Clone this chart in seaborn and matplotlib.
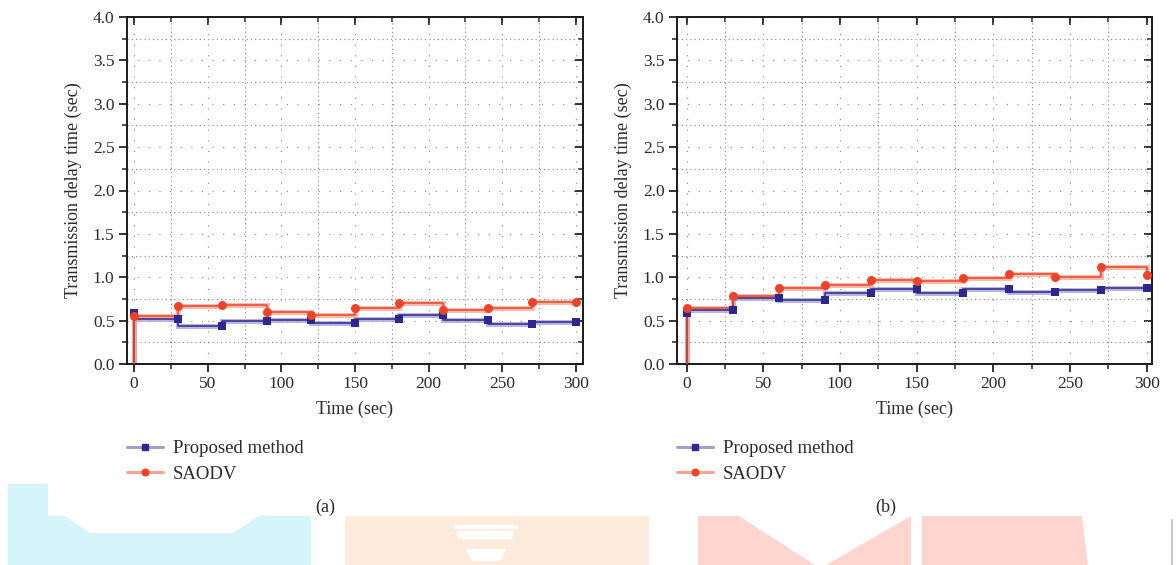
import matplotlib
matplotlib.use("Agg")
import matplotlib.pyplot as plt
import numpy as np
import pandas as pd
import seaborn as sns
from matplotlib.lines import Line2D
from matplotlib.patches import Polygon

# ---- data -------------------------------------------------------------
time_sec = [0, 30, 60, 90, 120, 150, 180, 210, 240, 270, 300]

proposed_a = [0.59, 0.52, 0.44, 0.49, 0.51, 0.47, 0.52, 0.57, 0.51, 0.46, 0.48]
saodv_a = [0.55, 0.67, 0.68, 0.60, 0.57, 0.65, 0.70, 0.62, 0.64, 0.71, 0.72]

proposed_b = [0.59, 0.62, 0.76, 0.74, 0.82, 0.87, 0.82, 0.87, 0.83, 0.85, 0.88]
saodv_b = [0.65, 0.78, 0.88, 0.91, 0.97, 0.96, 0.99, 1.04, 1.00, 1.12, 1.03]

series_names = ["Proposed method", "SAODV"]
panel_labels = ["(a)", "(b)"]
x_label = "Time (sec)"
y_label = "Transmission delay time (sec)"
x_ticks = [0, 50, 100, 150, 200, 250, 300]
x_minor = [25, 75, 125, 175, 225, 275]
y_ticks = [0.0, 0.5, 1.0, 1.5, 2.0, 2.5, 3.0, 3.5, 4.0]
y_minor = [0.25, 0.75, 1.25, 1.75, 2.25, 2.75, 3.25, 3.75]

# ---- style ------------------------------------------------------------
sns.set_theme(style="ticks")
plt.rcParams["font.family"] = ["Liberation Serif", "DejaVu Serif"]
TEXT = "#2b2b2b"
plt.rcParams["text.color"] = TEXT
plt.rcParams["axes.labelcolor"] = TEXT
plt.rcParams["xtick.color"] = "#222222"
plt.rcParams["ytick.color"] = "#222222"
plt.rcParams["xtick.labelcolor"] = TEXT
plt.rcParams["ytick.labelcolor"] = TEXT

BLUE = "#2d2790"
BLUE_BAND = "#a29ed4"
RED = "#ee4326"
RED_BAND = "#f7a492"

W, H = 1176, 565
fig = plt.figure(figsize=(W / 100, H / 100), dpi=100)
fig.patch.set_facecolor("white")


def px(x, y):
    """pixel position (from top-left) -> figure fraction"""
    return (x / W, 1 - y / H)


def draw_series(ax, values, color, band, marker, size, step):
    df = pd.DataFrame({"t": [0] + time_sec, "v": [0.0] + list(values)})
    sns.lineplot(data=df, x="t", y="v", ax=ax, estimator=None, sort=False,
                 drawstyle=step, color=band, lw=3.6, alpha=0.75,
                 solid_joinstyle="miter", zorder=2)
    sns.lineplot(data=df, x="t", y="v", ax=ax, estimator=None, sort=False,
                 drawstyle=step, color=color, lw=1.1, zorder=3)
    sns.scatterplot(x=time_sec, y=values, ax=ax, marker=marker, s=size,
                    color=color, edgecolor=color, linewidth=0, zorder=5)


def style_axes(ax, xlim):
    ax.set_xlim(*xlim)
    ax.set_ylim(0, 4.0)
    ax.set_xticks(x_ticks)
    ax.set_xticks(x_minor, minor=True)
    ax.set_yticks(y_ticks)
    ax.set_yticks(y_minor, minor=True)
    ax.set_yticklabels([f"{v:.1f}" for v in y_ticks])
    ax.tick_params(which="major", direction="out", length=6, width=1.3,
                   labelsize=12.5, pad=3)
    ax.tick_params(which="minor", direction="out", length=3.5, width=1.1)
    ax.grid(which="major", linestyle=(0, (1, 8)), color="#8e8e8e", lw=0.85)
    ax.grid(which="minor", linestyle=(0, (1, 2.6)), color="#8e8e8e", lw=0.85)
    ax.set_axisbelow(True)
    for s in ax.spines.values():
        s.set_visible(True)
        s.set_color("#1a1a1a")
        s.set_linewidth(1.4)
    # inward ticks along the top and right edges
    top = ax.secondary_xaxis("top")
    top.set_xticks(x_ticks)
    top.set_xticks(x_minor, minor=True)
    top.tick_params(which="major", direction="in", length=6, width=1.3, labeltop=False)
    top.tick_params(which="minor", direction="in", length=3.5, width=1.1)
    top.spines["top"].set_visible(False)
    right = ax.secondary_yaxis("right")
    right.set_yticks(y_ticks)
    right.set_yticks(y_minor, minor=True)
    right.tick_params(which="major", direction="in", length=6, width=1.3, labelright=False)
    right.tick_params(which="minor", direction="in", length=3.5, width=1.1)
    right.spines["right"].set_visible(False)
    ax.set_xlabel(x_label, fontsize=13, labelpad=6)
    ax.set_ylabel(y_label, fontsize=13, labelpad=8)


# ---- background decoration along the bottom edge ---------------------
deco = [
    ("#d5f5fb", [(8, 484), (48, 484), (48, 516), (311, 516), (311, 565), (8, 565)]),
    ("#ffffff", [(64, 516), (259, 516), (233, 533), (90, 533)]),
    ("#feebdb", [(345, 516), (649, 516), (649, 565), (345, 565)]),
    ("#ffffff", [(454, 525), (518, 525), (518, 529), (454, 529)]),
    ("#ffffff", [(458, 531), (513, 531), (513, 539), (458, 539)]),
    ("#ffffff", [(466, 549), (506, 549), (500, 561), (472, 561)]),
    ("#fed6cf", [(698, 516), (739, 516), (815, 565), (698, 565)]),
    ("#fed6cf", [(826, 565), (911, 516), (911, 565)]),
    ("#fed6cf", [(922, 516), (1082, 516), (1088, 565), (922, 565)]),
]
for col, pts in deco:
    fig.patches.append(Polygon([px(*p) for p in pts], closed=True,
                               transform=fig.transFigure, facecolor=col,
                               edgecolor="none", zorder=0))
fig.add_artist(Line2D([1172 / W, 1172 / W], [1 - 565 / H, 1 - 520 / H],
                      transform=fig.transFigure, color="#bdbdbd", lw=1.2))

# ---- panels -----------------------------------------------------------
panels = [
    (px(127, 364), 456, (-4.8, 304.8), proposed_a, saodv_a, (127, 440), 325),
    (px(677, 364), 475, (-6.2, 303.5), proposed_b, saodv_b, (677, 440), 886),
]
for i, (origin, width_px, xlim, prop, saodv, leg_xy, lab_x) in enumerate(panels):
    ax = fig.add_axes([origin[0], origin[1], width_px / W, 347 / H])
    ax.set_facecolor("white")
    draw_series(ax, prop, BLUE, BLUE_BAND, "s", 34, "steps-pre")
    draw_series(ax, saodv, RED, RED_BAND, "o", 42, "steps-post")
    style_axes(ax, xlim)

    handles = [
        Line2D([], [], color=BLUE_BAND, lw=2.2, marker="s", markersize=4.8,
               markerfacecolor=BLUE, markeredgecolor=BLUE),
        Line2D([], [], color=RED_BAND, lw=2.2, marker="o", markersize=4.8,
               markerfacecolor=RED, markeredgecolor=RED),
    ]
    ax.legend(handles, series_names, loc="upper left",
              bbox_to_anchor=px(*leg_xy), bbox_transform=fig.transFigure,
              frameon=False, fontsize=13.5, handlelength=1.9,
              handletextpad=0.55, labelspacing=0.45, borderpad=0,
              borderaxespad=0)
    fig.text(*px(lab_x, 507), panel_labels[i], ha="center", va="center",
             fontsize=13, color=TEXT)

fig.savefig("out.png", dpi=100, facecolor="white")
